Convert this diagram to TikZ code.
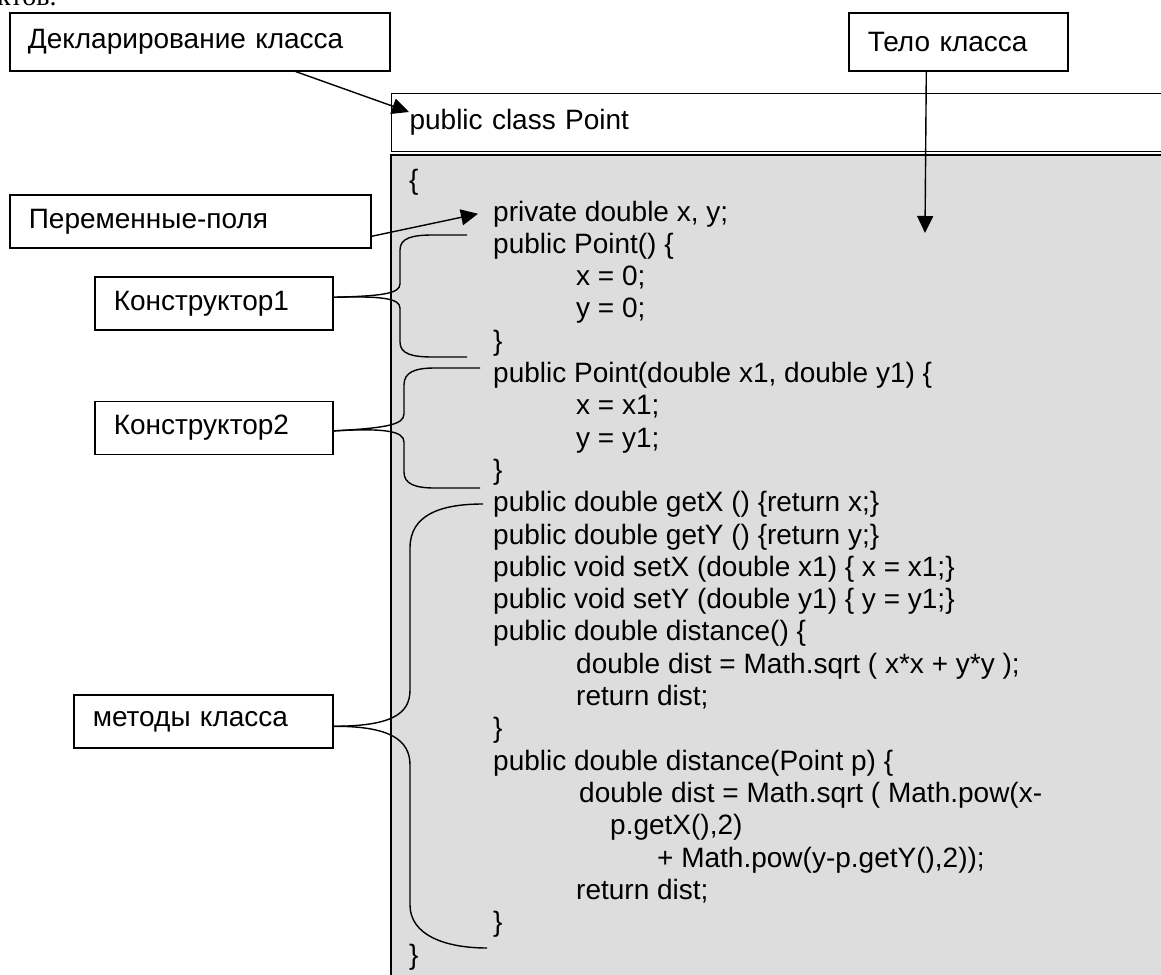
\documentclass[tikz,border=0pt]{standalone}
\usepackage{fontspec}
\setmainfont{Liberation Sans}
\newfontfamily\bodyserif{Liberation Serif}
\usetikzlibrary{arrows.meta,positioning}
\definecolor{codebg}{RGB}{221,221,221}
\tikzset{
  lbl/.style={draw, line width=1.6pt, align=left, inner xsep=19pt, inner ysep=0pt,
    minimum height=53pt, anchor=north west, font=\fontsize{28}{32}\selectfont},
  ptr/.style={-{Triangle[length=17pt,width=16pt]}, line width=1.4pt},
  brc/.style={line width=1.4pt},
  code/.style={anchor=base west, inner sep=0pt, font=\fontsize{28}{32}\selectfont},
}
\begin{document}
\begin{tikzpicture}[x=1pt,y=-1pt]
\clip (0,0) rectangle (1161,974);
\node (frag) [anchor=base west, inner sep=0pt, font=\bodyserif\fontsize{28}{32}\selectfont] at (-3,6) {ктов.};
% class header and body
\node (head) [lbl, line width=1.1pt, text width=880pt, inner xsep=18pt, minimum height=58pt] at (391,93) {public class Point};
\draw[line width=1.2pt, fill=codebg] (391,155) rectangle (1300,1100);
% labels
\node (decl) [lbl, text width=344pt, inner xsep=18pt, minimum height=58pt] at (9,12) {Декларирование класса};
\node (tbody) [lbl, text width=181pt, minimum height=58pt] at (848,12) {Тело класса};
\node (fields) [lbl, text width=323pt] at (9,194) {Переменные-поля};
\node (k1) [lbl, text width=200pt] at (94,276) {Конструктор1};
\node (k2) [lbl, text width=200pt, below=70pt of k1.south west, anchor=north west] {Конструктор2};
\node (meth) [lbl, text width=221pt] at (73,694) {методы класса};
% code
\node (open) [code] at (409,189) {\{};
\foreach \x/\txt [count=\n from 0] in {
  493/{private double x, y;},
  493/{public Point() \{},
  576/{x = 0;},
  576/{y = 0;},
  493/{\}},
  493/{public Point(double x1, double y1) \{},
  576/{x = x1;},
  576/{y = y1;},
  493/{\}},
  493/{public double getX () \{return x;\}},
  493/{public double getY () \{return y;\}},
  493/{public void setX (double x1) \{ x = x1;\}},
  493/{public void setY (double y1) \{ y = y1;\}},
  493/{public double distance() \{},
  576/{double dist = Math.sqrt ( x*x + y*y );},
  576/{return dist;},
  493/{\}},
  493/{public double distance(Point p) \{},
  579/{double dist = Math.sqrt ( Math.pow(x-},
  610/{p.getX(),2)},
  657/{+ Math.pow(y-p.getY(),2));},
  576/{return dist;},
  493/{\}}}
  \node (c\n) [code] at (\x,221+32.3*\n) {\txt};
\node (close) [code] at (409,964) {\}};
% arrows
\coordinate (decltip) at (409,112);
\coordinate (bodytip) at (925,233);
\draw[ptr] ([xshift=96pt]decl.south) -- (decltip);
\draw[ptr] ([xshift=-32pt]tbody.south) -- (bodytip);
\draw[ptr] ([yshift=-15pt]fields.east) -- ([xshift=-15pt]c0.west);
% braces
\draw[brc] ([yshift=6pt]k1.east) .. controls (380,296) and (400,294) .. (400,284) -- (400,250)
  .. controls (400,238) and (412,235) .. (433,235) -- (467,235);
\draw[brc] ([yshift=6pt]k1.east) .. controls (380,296) and (400,298) .. (400,308) -- (400,342)
  .. controls (400,354) and (412,357) .. (433,357) -- (467,357);
\draw[brc] ([yshift=-3pt]k2.east) .. controls (385,428) and (404,425) .. (404,414) -- (404,385)
  .. controls (404,372) and (415,368) .. (435,368) -- (480,368);
\draw[brc] ([yshift=-3pt]k2.east) .. controls (385,428) and (404,431) .. (404,442) -- (404,472)
  .. controls (404,484) and (415,488) .. (435,488) -- (480,488);
\draw[brc] ([yshift=-5pt]meth.east) .. controls (390,726) and (410,715) .. (410,690) -- (410,548)
  .. controls (410,515) and (440,504) .. (483,504);
\draw[brc] ([yshift=-5pt]meth.east) .. controls (390,726) and (410,740) .. (410,765) -- (410,905)
  .. controls (410,935) and (445,948) .. (487,948);
\end{tikzpicture}
\end{document}
